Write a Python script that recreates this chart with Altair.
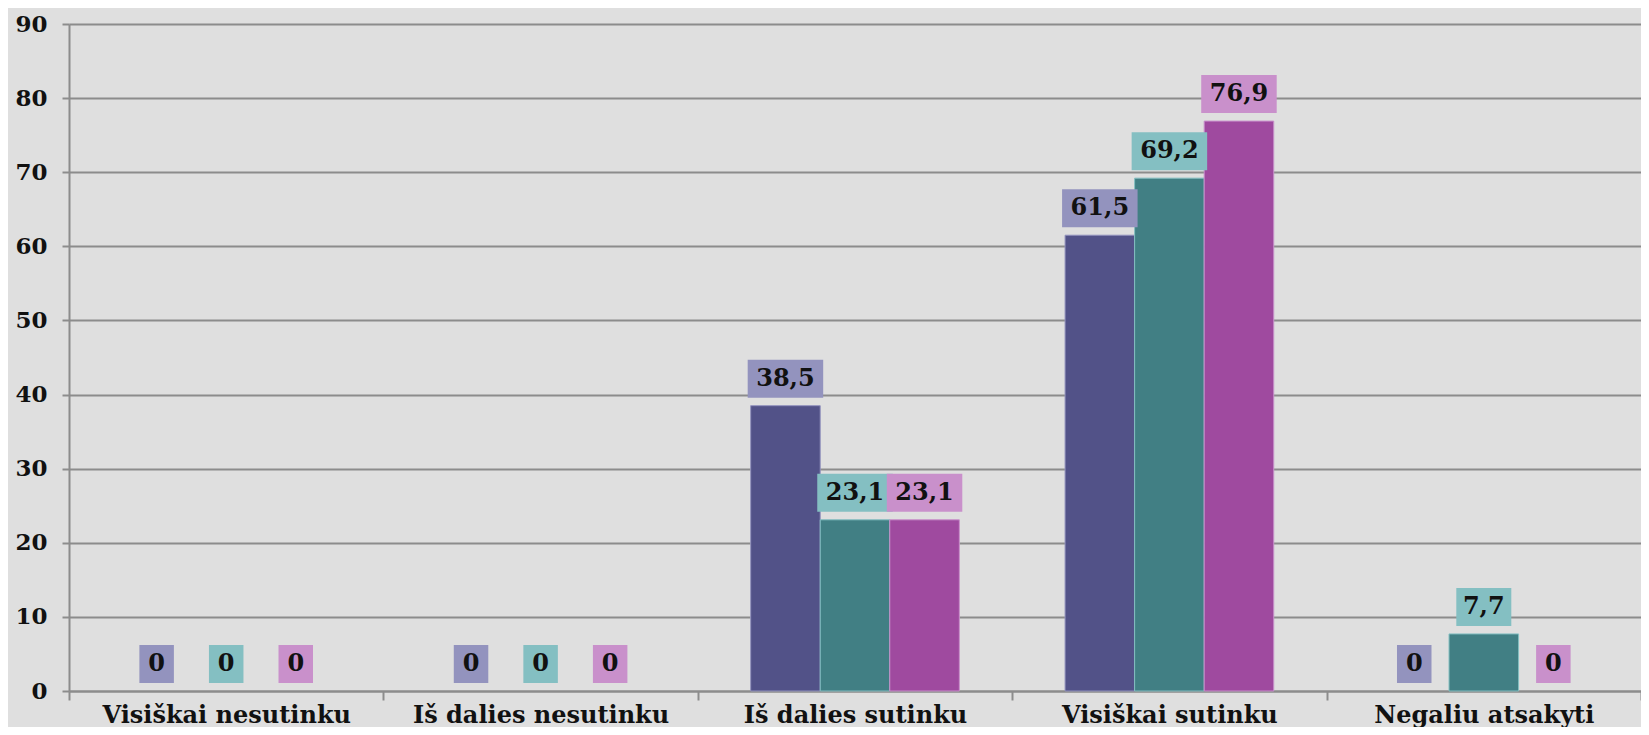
import altair as alt
import pandas as pd

categories = ["Visiškai nesutinku", "Iš dalies nesutinku", "Iš dalies sutinku",
              "Visiškai sutinku", "Negaliu atsakyti"]
series = ["1 grupė", "2 grupė", "3 grupė"]
series1 = [0, 0, 38.5, 61.5, 0]
series2 = [0, 0, 23.1, 69.2, 7.7]
series3 = [0, 0, 23.1, 76.9, 0]
y_ticks = [0, 10, 20, 30, 40, 50, 60, 70, 80, 90]

rows = []
for s, vals in zip(series, [series1, series2, series3]):
    for c, v in zip(categories, vals):
        rows.append({"cat": c, "series": s, "value": v})
df = pd.DataFrame(rows)

bar_colors = ["#525288", "#417F84", "#9F4A9F"]
box_colors = ["#9393BE", "#84BFC2", "#C990CB"]
grid_col = "#8C8C8C"
font = "DejaVu Serif"

base = alt.Chart(df).transform_calculate(
    label="datum.value == 0 ? '0' : replace(format(datum.value, '.1f'), '.', ',')"
).transform_calculate(
    boxw="14 + 20.5 * length(replace(datum.label, ',', ''))"
)

x = alt.X("cat:N", sort=categories,
          scale=alt.Scale(paddingInner=0, paddingOuter=0),
          axis=alt.Axis(title=None, labelAngle=0, labelFont=font, labelFontWeight="bold",
                        labelFontSize=24, labelColor="#111111", tickBand="extent",
                        tickSize=9, tickColor=grid_col, tickWidth=2, labelLimit=0,
                        domainColor=grid_col, domainWidth=2, labelPadding=3, grid=False))
xo = alt.XOffset("series:N", sort=series,
                 scale=alt.Scale(paddingOuter=0.76, paddingInner=0))
y = alt.Y("value:Q", scale=alt.Scale(domain=[0, 90], nice=False),
          axis=alt.Axis(values=y_ticks, title=None, labelFont=font, labelFontWeight="bold",
                        labelFontSize=23, labelColor="#111111", tickSize=7,
                        tickColor=grid_col, tickWidth=2, domainColor=grid_col,
                        domainWidth=2, labelPadding=15, grid=True, gridColor=grid_col,
                        gridWidth=2))

bars = base.transform_filter("datum.value > 0").mark_bar(strokeWidth=1).encode(
    x=x, xOffset=xo, y=y,
    color=alt.Color("series:N", sort=series,
                    scale=alt.Scale(domain=series, range=bar_colors), legend=None),
    stroke=alt.Stroke("series:N", sort=series,
                      scale=alt.Scale(domain=series, range=box_colors), legend=None),
)

boxes = base.mark_bar(yOffset=-8, y2Offset=-46).encode(
    x=x, xOffset=xo,
    y=alt.Y("value:Q"),
    y2=alt.Y2("value"),
    size=alt.Size("boxw:Q", scale=None, legend=None),
    fill=alt.Fill("series:N", sort=series,
                  scale=alt.Scale(domain=series, range=box_colors), legend=None),
)

texts = base.mark_text(dy=-27, baseline="middle", align="center", font=font,
                       fontWeight="bold", fontSize=24, color="#111111").encode(
    x=x, xOffset=xo, y=alt.Y("value:Q"), text="label:N"
)

chart = alt.layer(bars, boxes, texts).resolve_scale(
    color="independent", fill="independent", stroke="independent"
).properties(
    width=1572, height=667,
    autosize=alt.AutoSizeParams(type="none"),
    padding={"left": 61, "top": 16, "right": 0, "bottom": 36},
    background="#DFDFDF",
).configure_view(stroke=None)

chart.save("out.html", embed_options={"renderer": "svg", "actions": False})
